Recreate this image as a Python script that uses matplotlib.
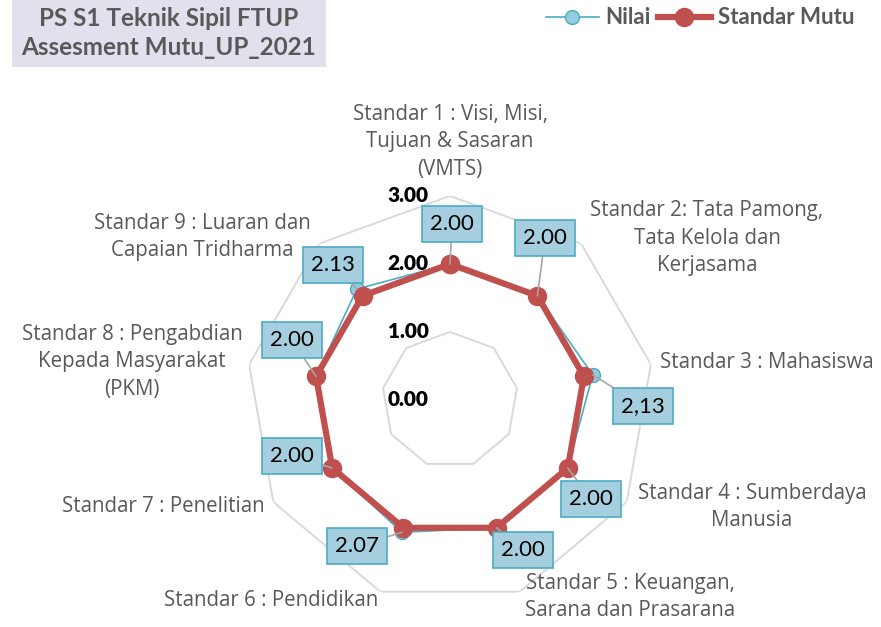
import numpy as np
import matplotlib
matplotlib.use("Agg")
import matplotlib.pyplot as plt

# Data ####################################################################
categories = [
    "Standar 1 : Visi, Misi,\nTujuan & Sasaran\n(VMTS)",
    "Standar 2: Tata Pamong,\nTata Kelola dan\nKerjasama",
    "Standar 3 : Mahasiswa",
    "Standar 4 : Sumberdaya\nManusia",
    "Standar 5 : Keuangan,\nSarana dan Prasarana",
    "Standar 6 : Pendidikan",
    "Standar 7 : Penelitian",
    "Standar 8 : Pengabdian\nKepada Masyarakat\n(PKM)",
    "Standar 9 : Luaran dan\nCapaian Tridharma",
]
nilai = [2.00, 2.00, 2.13, 2.00, 2.00, 2.07, 2.00, 2.00, 2.13]
nilai_labels = ["2.00", "2.00", "2,13", "2.00", "2.00", "2.07", "2.00", "2.00", "2.13"]
standar_mutu = [2.00, 2.00, 2.00, 2.00, 2.00, 2.00, 2.00, 2.00, 2.00]
grid_levels = [1.0, 2.0, 3.0]
tick_values = [0.0, 1.0, 2.0, 3.0]

# Layout (pixels from top-left of the 881x627 image) ######################
W, H = 881, 627
center = (450, 400)
radius = 204  # pixels for r = 3

cat_pos = [(450, 142, "center"), (707, 238, "center"), (660, 362, "left"),
           (752, 507, "center"), (630, 597, "center"), (378, 601, "right"),
           (265, 507, "right"), (132, 362, "center"), (202, 237, "center")]
box_pos = [(452, 224), (545, 238), (643, 406), (591, 499), (523, 550),
           (357, 546), (292, 456), (292, 340), (333, 265)]

def fx(x):
    return x / W

def fy(y):
    return 1 - y / H

# Figure #####################################################################
fig = plt.figure(figsize=(8.81, 6.27), dpi=100)
fig.patch.set_facecolor("white")

ax = fig.add_axes([fx(center[0] - radius), (H - center[1] - radius) / H,
                   2 * radius / W, 2 * radius / H], projection="polar")
ax.set_theta_zero_location("N")
ax.set_theta_direction(-1)
ax.set_ylim(0, 3)
ax.grid(False)
ax.set_xticks([])
ax.set_yticks([])
ax.spines["polar"].set_visible(False)
ax.patch.set_alpha(0)

n = len(categories)
theta = np.linspace(0, 2 * np.pi, n, endpoint=False)
theta_c = np.append(theta, theta[0])

for lev in grid_levels:
    ax.plot(theta_c, [lev] * (n + 1), color="#d9d9d9", lw=1.4, zorder=1)

ax.plot(theta_c, nilai + nilai[:1], color="#4bacc6", lw=1.2, marker="o",
        markersize=10, markerfacecolor="#93cddd", markeredgecolor="#4bacc6",
        zorder=3, label="Nilai")
ax.plot(theta_c, standar_mutu + standar_mutu[:1], color="#c0504d", lw=4.5,
        marker="o", markersize=13, markerfacecolor="#c0504d",
        markeredgecolor="#c0504d", zorder=4, label="Standar Mutu")

# radial tick labels
for v in tick_values:
    ax.annotate(f"{v:.2f}", xy=(0, v), xytext=(-42, 0), textcoords="offset pixels",
                ha="center", va="center", fontsize=15, fontweight="heavy",
                family="Lato", color="black", zorder=6)

# data labels
for i in range(n):
    bx, by = box_pos[i]
    ax.annotate(nilai_labels[i], xy=(theta[i], nilai[i]),
                xytext=(fx(bx), fy(by)), textcoords="figure fraction",
                ha="center", va="center", fontsize=16, family="Lato",
                color="black", zorder=7,
                bbox=dict(boxstyle="square,pad=0.36", fc="#a5cfdf", ec="#4bacc6", lw=1.2),
                arrowprops=dict(arrowstyle="-", color="#a6a6a6", lw=1.2,
                                shrinkA=0, shrinkB=0))

# category labels
for i in range(n):
    x, y, ha = cat_pos[i]
    fig.text(fx(x), fy(y), categories[i], ha=ha, va="center", fontsize=14.8,
             family="Open Sans", color="#595959", linespacing=1.38)

# title box
fig.patches.append(plt.Rectangle((fx(12), fy(67)), fx(326) - fx(12), 67 / H,
                                 transform=fig.transFigure, facecolor="#e4dfec",
                                 edgecolor="none", zorder=0))
fig.text(fx(169), fy(33), "PS S1 Teknik Sipil FTUP\nAssesment Mutu_UP_2021",
         ha="center", va="center", fontsize=17.5, fontweight="bold", family="Lato",
         color="#595959", linespacing=1.3)

fig.legend(loc="center", bbox_to_anchor=(fx(700), fy(18)), ncol=2, frameon=False,
           prop=dict(family="Lato", weight="bold", size=16), labelcolor="#595959",
           handlelength=2.4, columnspacing=0.3, handletextpad=0.3)

fig.savefig("out.png", dpi=100)
